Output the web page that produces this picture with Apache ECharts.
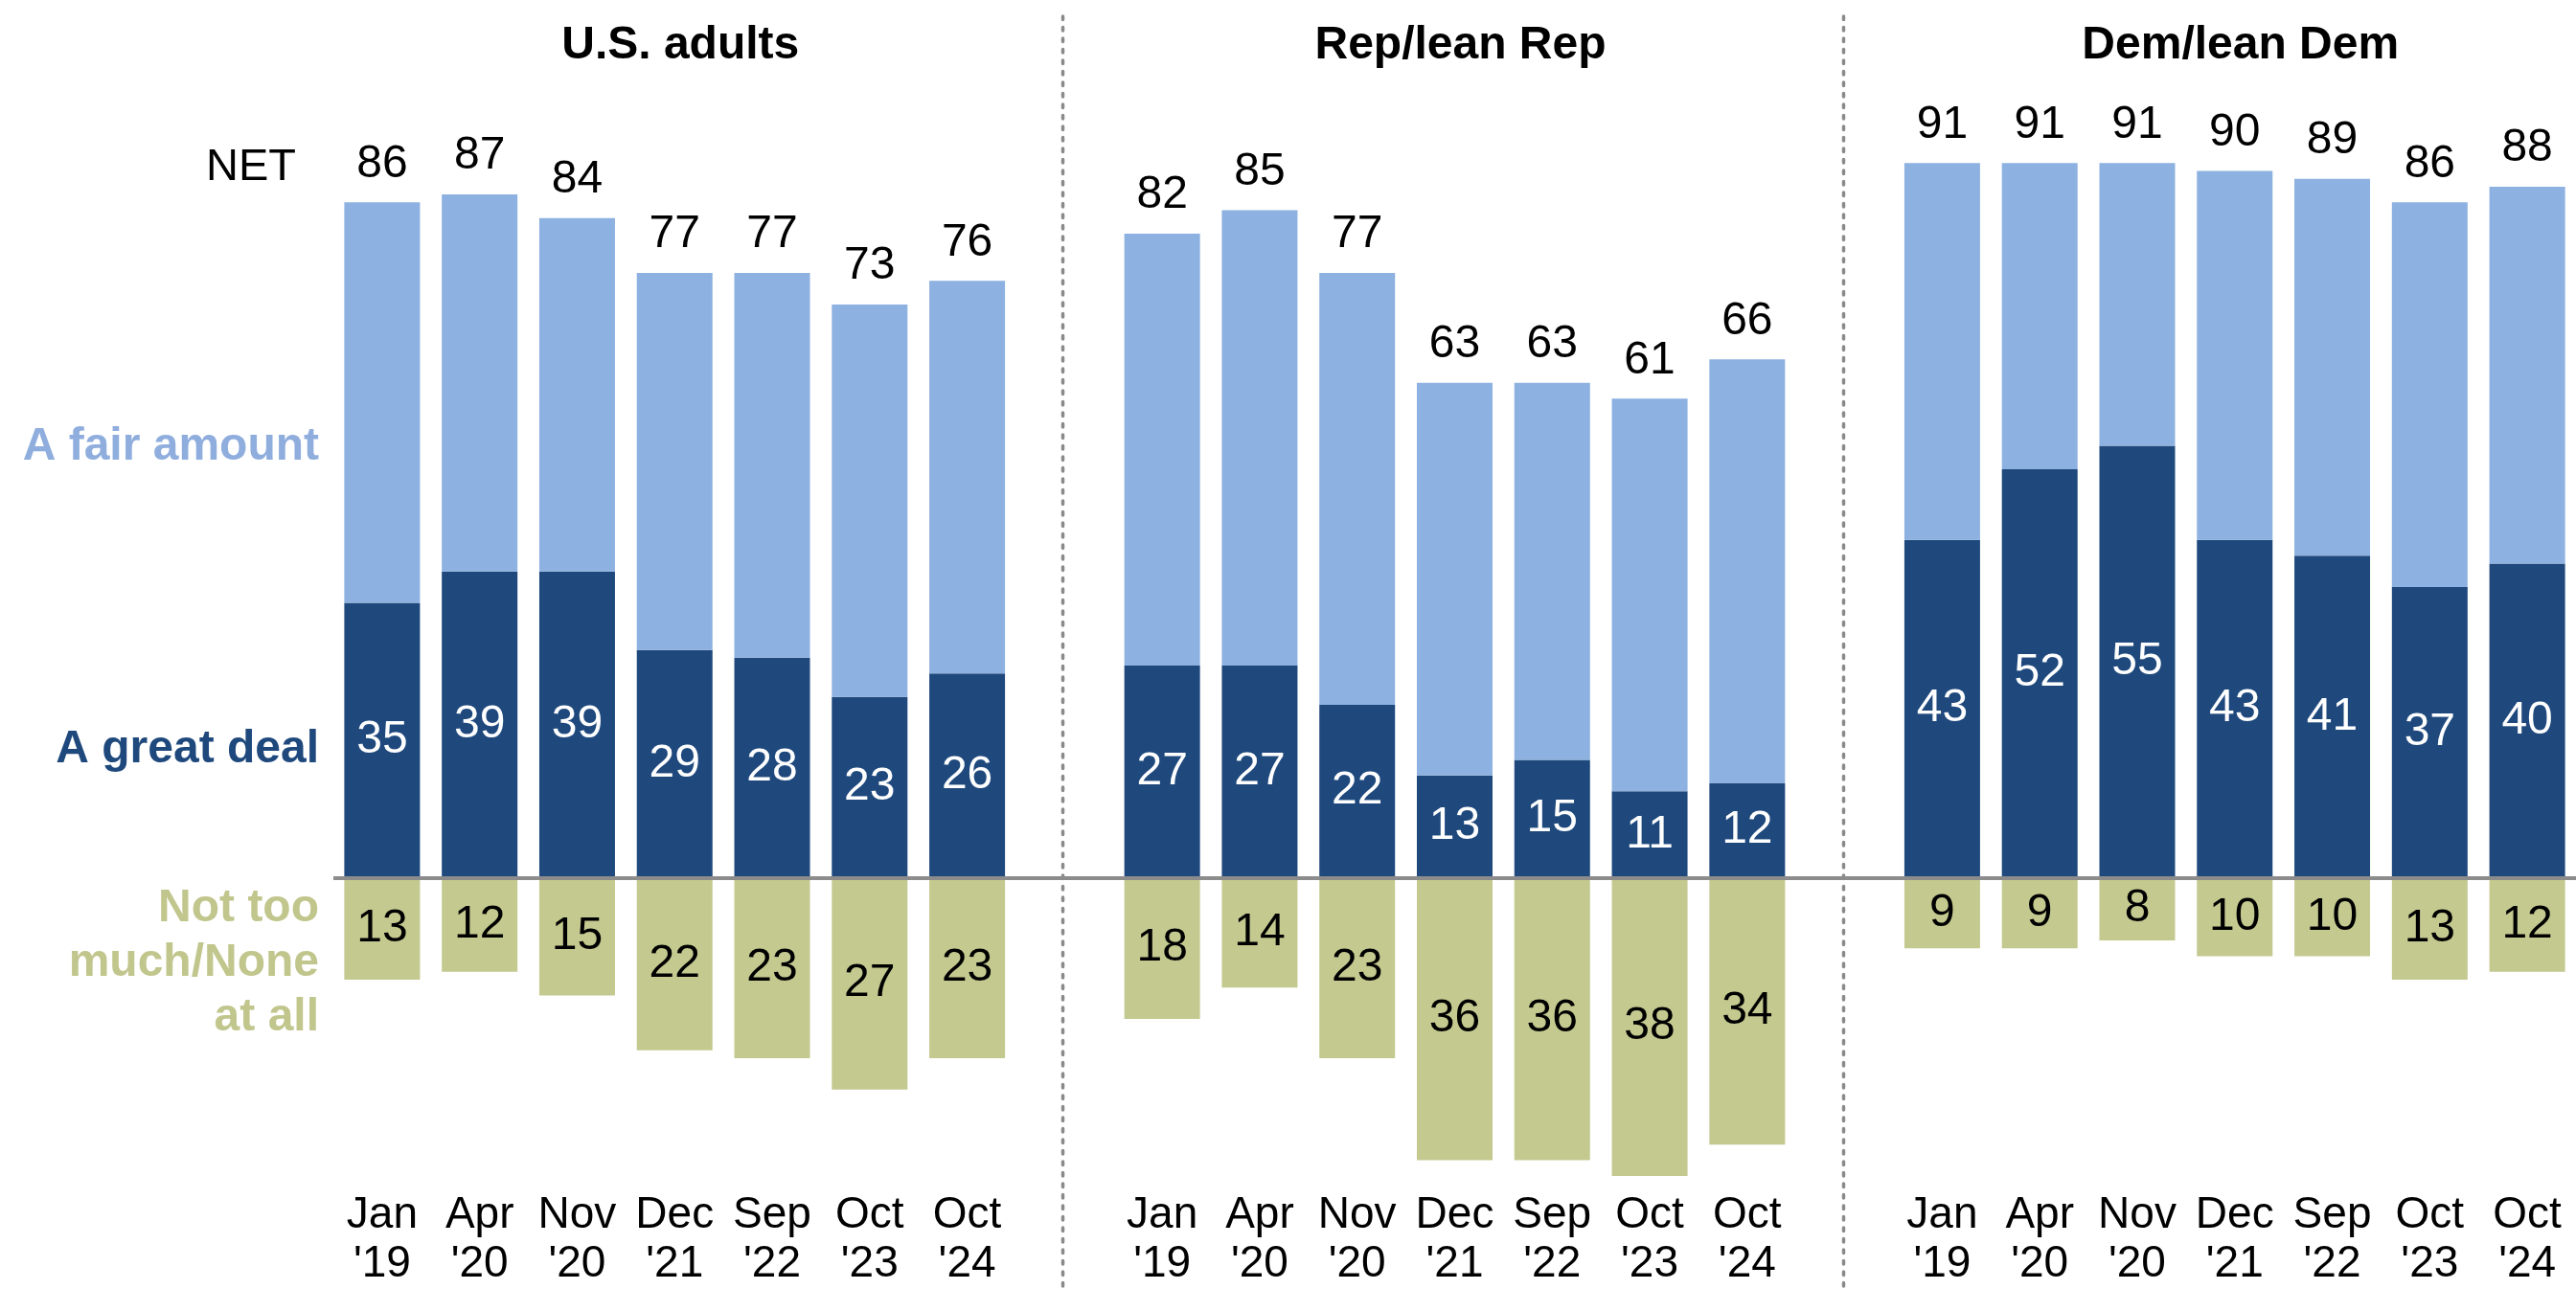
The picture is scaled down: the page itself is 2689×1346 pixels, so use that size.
<!DOCTYPE html>
<html>
<head>
<meta charset="utf-8">
<script src="https://cdn.jsdelivr.net/npm/echarts@6/dist/echarts.min.js"></script>
<style>
html,body{margin:0;padding:0;background:#fff;}
#chart{width:2689px;height:1346px;}
</style>
</head>
<body>
<div id="chart"></div>
<script>
// ---- Data ----
const panelTitles = ['U.S. adults', 'Rep/lean Rep', 'Dem/lean Dem'];
const periods = ["Jan\n'19", "Apr\n'20", "Nov\n'20", "Dec\n'21", "Sep\n'22", "Oct\n'23", "Oct\n'24"];

const usNet   = [86, 87, 84, 77, 77, 73, 76];
const usGreat = [35, 39, 39, 29, 28, 23, 26];
const usNot   = [13, 12, 15, 22, 23, 27, 23];

const repNet   = [82, 85, 77, 63, 63, 61, 66];
const repGreat = [27, 27, 22, 13, 15, 11, 12];
const repNot   = [18, 14, 23, 36, 36, 38, 34];

const demNet   = [91, 91, 91, 90, 89, 86, 88];
const demGreat = [43, 52, 55, 43, 41, 37, 40];
const demNot   = [9, 9, 8, 10, 10, 13, 12];

const rowLabels = {
  net: 'NET',
  fair: 'A fair amount',
  great: 'A great deal',
  notMuch: 'Not too\nmuch/None\nat all'
};

// ---- Build combined category slots (one empty slot between panels) ----
const slots = [].concat(periods, [''], periods, [''], periods);
const join = (a, b, c) => [].concat(a, ['-'], b, ['-'], c);
const netAll = join(usNet, repNet, demNet);
const greatAll = join(usGreat, repGreat, demGreat);
const fairAll = netAll.map((v, i) => v === '-' ? '-' : v - greatAll[i]);
const notAll = join(usNot, repNot, demNot).map(v => v === '-' ? '-' : -v);

const C_DARK = '#1F497D';
const C_LIGHT = '#8DB1E0';
const C_OLIVE = '#C4C98F';
const FONT = "'Liberation Sans', Arial, sans-serif";

const chart = echarts.init(document.getElementById('chart'), null, {renderer: 'canvas'});

const option = {
  animation: false,
  backgroundColor: '#ffffff',
  grid: {left: 348, right: 0, top: 96.5, bottom: 105.5, containLabel: false},
  xAxis: {
    type: 'category',
    data: slots,
    position: 'bottom',
    axisLine: {show: false, onZero: false},
    axisTick: {show: false},
    axisLabel: {
      show: true, interval: 0, margin: 16,
      color: '#000', fontFamily: FONT, fontSize: 46, lineHeight: 51
    },
    splitLine: {show: false}
  },
  yAxis: {
    type: 'value', min: -38, max: 100, show: false,
    splitLine: {show: false}
  },
  series: [
    {
      name: 'A great deal', type: 'bar', stack: 'total', barWidth: 79,
      data: greatAll,
      itemStyle: {color: C_DARK},
      label: {show: true, position: 'inside', color: '#fff', fontFamily: FONT, fontSize: 48}
    },
    {
      name: 'A fair amount', type: 'bar', stack: 'total', barWidth: 79,
      data: fairAll,
      itemStyle: {color: C_LIGHT},
      label: {
        show: true, position: 'top', distance: 16, color: '#000', fontFamily: FONT, fontSize: 48,
        formatter: p => netAll[p.dataIndex]
      }
    },
    {
      name: 'Not too much/None at all', type: 'bar', stack: 'total', barWidth: 79,
      data: notAll,
      itemStyle: {color: C_OLIVE},
      label: {
        show: true, position: 'inside', color: '#000', fontFamily: FONT, fontSize: 48,
        formatter: p => Math.abs(p.value)
      },
      markLine: {
        silent: true, symbol: 'none', z: 10,
        label: {show: false},
        lineStyle: {color: '#8C8C8C', width: 4, type: 'solid'},
        emphasis: {disabled: true},
        data: [{yAxis: 0}]
      }
    }
  ]
};
chart.setOption(option);

// Panel titles, dividers and row labels
const g = [];
[3, 11, 19].forEach((idx, k) => {
  const x = chart.convertToPixel({xAxisIndex: 0}, idx);
  g.push({
    type: 'text', x: x + 6, y: 48, silent: true,
    style: {text: panelTitles[k], fill: '#000', font: "bold 48px 'Liberation Sans', Arial, sans-serif",
            textAlign: 'center', textVerticalAlign: 'middle'}
  });
});
[7, 15].forEach(idx => {
  const x = Math.round(chart.convertToPixel({xAxisIndex: 0}, idx)) - 1.5;
  g.push({
    type: 'line', silent: true,
    shape: {x1: x, y1: 17, x2: x, y2: 1346},
    style: {stroke: '#8A8A8A', lineWidth: 3.5, lineDash: [3.5, 8], lineCap: 'round'}
  });
});
g.push({type: 'text', x: 309, y: 175, silent: true,
  style: {text: rowLabels.net, fill: '#000', font: "47px 'Liberation Sans', Arial, sans-serif",
          textAlign: 'right', textVerticalAlign: 'middle'}});
g.push({type: 'text', x: 333, y: 467, silent: true,
  style: {text: rowLabels.fair, fill: '#8FAEDD', font: "bold 48px 'Liberation Sans', Arial, sans-serif",
          textAlign: 'right', textVerticalAlign: 'middle'}});
g.push({type: 'text', x: 333, y: 783, silent: true,
  style: {text: rowLabels.great, fill: C_DARK, font: "bold 48px 'Liberation Sans', Arial, sans-serif",
          textAlign: 'right', textVerticalAlign: 'middle'}});
g.push({type: 'text', x: 333, y: 1006, silent: true,
  style: {text: rowLabels.notMuch, fill: '#C1C68D', font: "bold 48px 'Liberation Sans', Arial, sans-serif",
          lineHeight: 57, textAlign: 'right', textVerticalAlign: 'middle'}});
chart.setOption({graphic: {elements: g}});
</script>
</body>
</html>
